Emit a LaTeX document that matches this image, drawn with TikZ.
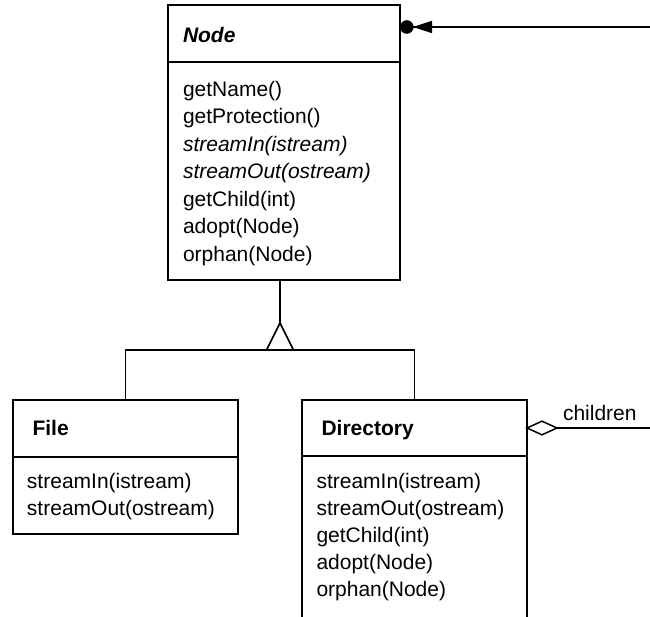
\documentclass[tikz,border=0pt]{standalone}
\usepackage{fontspec}
\setmainfont{Liberation Sans}
\newcommand{\umlfont}{\fontsize{21}{24}\selectfont}
\begin{document}
\begin{tikzpicture}[x=1pt, y=-1pt, line width=1.6pt,
  classbox/.style={draw, rectangle, anchor=north west, inner sep=0pt, outer sep=0pt},
  optext/.style={anchor=base west, inner sep=0pt, outer sep=0pt, font=\umlfont},
  titletext/.style={optext, font=\umlfont\bfseries}]
\useasboundingbox (0,0) rectangle (650,617);
\clip (0,0) rectangle (650,617);

% class boxes
\node[classbox, minimum width=232pt, minimum height=275pt] (nodecls) at (168,5) {};
\node[classbox, minimum width=225pt, minimum height=134pt] (file) at (13,400) {};
\node[classbox, minimum width=225pt, minimum height=260pt] (dir) at (302,400) {};

% compartment separators
\draw ([yshift=-57pt]nodecls.north west) -- ([yshift=-57pt]nodecls.north east);
\draw ([yshift=-57pt]file.north west) -- ([yshift=-57pt]file.north east);
\draw ([yshift=-56pt]dir.north west) -- ([yshift=-56pt]dir.north east);

% Node
\node[titletext, font=\umlfont\bfseries\itshape] (nodeTitle) at (183,43) {Node};
\node[optext] (nodeOpA) at (183,96.5) {getName()};
\node[optext] (nodeOpB) at (183,124) {getProtection()};
\node[optext, font=\umlfont\itshape] (nodeOpC) at (183,151.5) {streamIn(istream)};
\node[optext, font=\umlfont\itshape] (nodeOpD) at (183,179) {streamOut(ostream)};
\node[optext] (nodeOpE) at (183,206.5) {getChild(int)};
\node[optext] (nodeOpF) at (183,234) {adopt(Node)};
\node[optext] (nodeOpG) at (183,261.5) {orphan(Node)};

% File
\node[titletext] (fileTitle) at (32.5,435) {File};
\node[optext] (fileOpA) at (27,488.5) {streamIn(istream)};
\node[optext] (fileOpB) at (27,515) {streamOut(ostream)};

% Directory
\node[titletext] (dirTitle) at (321.5,435) {Directory};
\node[optext] (dirOpA) at (316.5,488.5) {streamIn(istream)};
\node[optext] (dirOpB) at (316.5,515.5) {streamOut(ostream)};
\node[optext] (dirOpC) at (316.5,542.5) {getChild(int)};
\node[optext] (dirOpD) at (316.5,569.5) {adopt(Node)};
\node[optext] (dirOpE) at (316.5,596.5) {orphan(Node)};

% generalization
\coordinate (apex) at (280,323);
\coordinate (bus) at (280,350);
\draw (apex |- nodecls.south) -- (apex);
\draw[line join=miter] (apex) -- ([xshift=-13.5pt]bus) -- ([xshift=13.5pt]bus) -- cycle;
\draw (file.north) |- (bus) -| (dir.north);

% parent reference: filled dot with a solid arrowhead
\coordinate (parentEnd) at (650,27);
\coordinate (parentHit) at (parentEnd -| nodecls.east);
\draw (parentEnd) -- (parentHit);
\fill ([xshift=6.8pt]parentHit) circle (6.8pt);
\fill ([xshift=13pt]parentHit) -- ([xshift=32pt,yshift=6.2pt]parentHit)
  -- ([xshift=32pt,yshift=-6.2pt]parentHit) -- cycle;

% children aggregation: hollow diamond
\coordinate (childEnd) at (650,428);
\coordinate (childHit) at (childEnd -| dir.east);
\draw (childEnd) -- (childHit);
\draw[fill=white, line join=miter, line width=1.5pt] (childHit) -- ([xshift=15pt,yshift=6.8pt]childHit)
  -- ([xshift=30pt]childHit) -- ([xshift=15pt,yshift=-6.8pt]childHit) -- cycle;
\node[optext] (childrenLbl) at (563,420) {children};
\end{tikzpicture}
\end{document}
